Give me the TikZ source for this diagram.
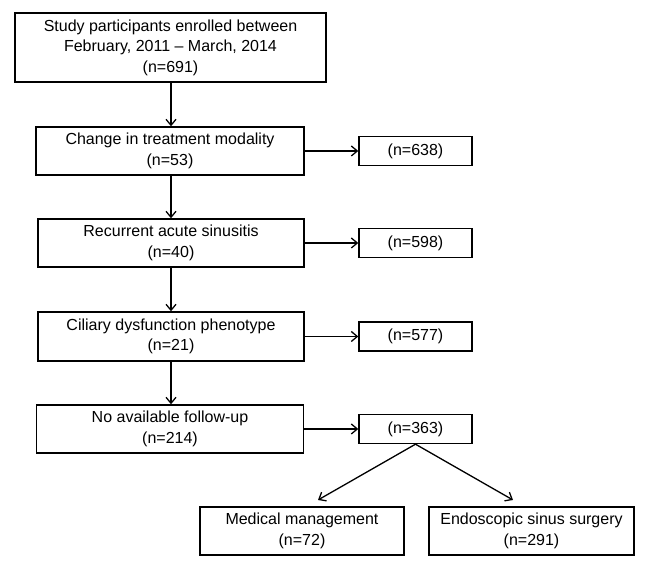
\documentclass[tikz,border=0pt]{standalone}
\usepackage{fontspec}
\setmainfont{Liberation Sans}
\usetikzlibrary{arrows.meta}
\begin{document}
\begin{tikzpicture}[x=1pt,y=1pt,
  box/.style={draw, line width=1.4pt, align=center, inner sep=0pt,
    font=\fontsize{16}{20.5}\selectfont},
  arr/.style={line width=1.3pt, -{Straight Barb[length=6pt,width=10pt,line width=1.3pt]}}]
\useasboundingbox (0,0) rectangle (649,570);
\node[box, minimum width=311, minimum height=69] (b1) at (170.5,522.5)
  {Study participants enrolled between\\February, 2011 -- March, 2014\\(n=691)};
\node[box, minimum width=268, minimum height=48] (b2) at (170,419)
  {Change in treatment modality\\(n=53)};
\node[box, minimum width=266, minimum height=48] (b3) at (171,327)
  {Recurrent acute sinusitis\\(n=40)};
\node[box, minimum width=266, minimum height=49] (b4) at (171,233.5)
  {Ciliary dysfunction phenotype\\(n=21)};
\node[box, minimum width=267, minimum height=48] (b5) at (170,141)
  {No available follow-up\\(n=214)};
\node[box, minimum width=113, minimum height=29] (s2) at (415.5,419) {(n=638)};
\node[box, minimum width=113, minimum height=29] (s3) at (415.5,327) {(n=598)};
\node[box, minimum width=113, minimum height=29] (s4) at (415.5,233.5) {(n=577)};
\node[box, minimum width=113, minimum height=29] (s5) at (415.5,141) {(n=363)};
\node[box, minimum width=204, minimum height=48] (m) at (302,39)
  {Medical management\\(n=72)};
\node[box, minimum width=205, minimum height=48] (e) at (531.5,39)
  {Endoscopic sinus surgery\\(n=291)};
\coordinate (mt) at (318,70);
\coordinate (et) at (513,70);
\draw[arr] (b1.south -| 171,0) -- (b2.north -| 171,0);
\draw[arr] (b2.south -| 171,0) -- (b3.north -| 171,0);
\draw[arr] (b3.south -| 171,0) -- (b4.north -| 171,0);
\draw[arr] (b4.south -| 171,0) -- (b5.north -| 171,0);
\draw[arr] (b2.east) -- (s2.west);
\draw[arr] (b3.east) -- (s3.west);
\draw[arr] (b4.east) -- (s4.west);
\draw[arr] (b5.east) -- (s5.west);
\draw[arr] (s5.south) -- (mt);
\draw[arr] (s5.south) -- (et);
\end{tikzpicture}
\end{document}
